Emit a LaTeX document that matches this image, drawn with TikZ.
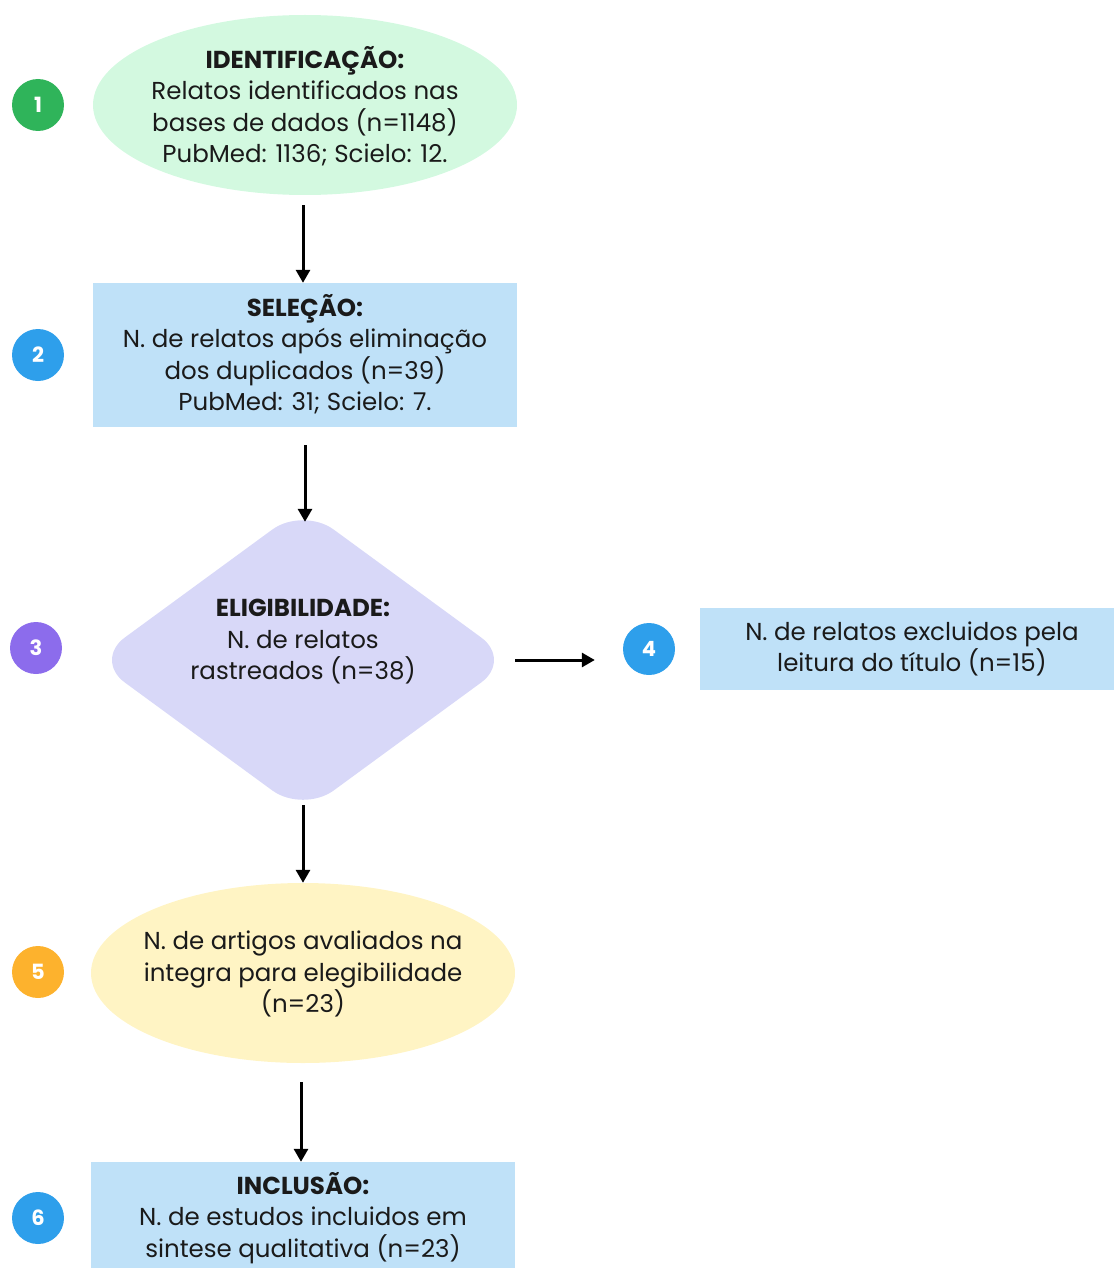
\documentclass[tikz,border=0pt]{standalone}
\usepackage{fontspec}
\setmainfont{Poppins}
\usetikzlibrary{shapes.geometric,arrows.meta}
\definecolor{cgreen}{HTML}{2FB45A}
\definecolor{cblue}{HTML}{2E9FEB}
\definecolor{cpurple}{HTML}{8C6CEC}
\definecolor{corange}{HTML}{FDB22D}
\definecolor{fgreen}{HTML}{D3F9E0}
\definecolor{fblue}{HTML}{BFE1F8}
\definecolor{flav}{HTML}{D8D8F8}
\definecolor{fyellow}{HTML}{FFF4C4}
\definecolor{txt}{HTML}{1A1A1A}
\tikzset{
  num/.style={circle,minimum size=52pt,inner sep=0pt,text=white,font=\fontsize{21}{24}\selectfont\bfseries},
  lbl/.style={align=center,text=txt,font=\fontsize{24.5}{31.5}\selectfont,inner sep=0pt},
  arr/.style={-{Triangle[length=13pt,width=14pt]},line width=3pt,black},
}
\begin{document}
\begin{tikzpicture}[x=1pt,y=-1pt]
\useasboundingbox (0,0) rectangle (1114,1268);
% node 1
\node[ellipse,fill=fgreen,minimum width=424pt,minimum height=180pt,inner sep=0pt] (e1) at (305,105) {};
\node[lbl] (t1) at (305,106) {\textbf{IDENTIFICAÇÃO:}\\Relatos identificados nas\\bases de dados (n=1148)\\PubMed: 1136; Scielo: 12.};
\node[num,fill=cgreen] (c1) at (38,105) {1};
% node 2
\node[rectangle,fill=fblue,minimum width=424pt,minimum height=144pt,inner sep=0pt] (r2) at (305,355) {};
\node[lbl] (t2) at (305,354) {\textbf{SELEÇÃO:}\\N. de relatos após eliminação\\dos duplicados (n=39)\\PubMed: 31; Scielo: 7.};
\node[num,fill=cblue] (c2) at (38,355) {2};
% node 3
\node[diamond,fill=flav,minimum width=418pt,minimum height=306pt,inner sep=0pt,rounded corners=38pt] (d3) at (303,660) {};
\node[lbl] (t3) at (303,642) {\textbf{ELIGIBILIDADE:}\\N. de relatos\\rastreados (n=38)};
\node[num,fill=cpurple] (c3) at (36,648) {3};
% node 4
\node[num,fill=cblue] (c4) at (649,649) {4};
\node[rectangle,fill=fblue,minimum width=414pt,minimum height=82pt,inner sep=0pt] (r4) at (907,649) {};
\node[lbl] (t4) at (912,649) {N. de relatos excluidos pela\\leitura do título (n=15)};
% node 5
\node[ellipse,fill=fyellow,minimum width=424pt,minimum height=180pt,inner sep=0pt] (e5) at (303,973) {};
\node[lbl] (t5) at (303,974) {N. de artigos avaliados na\\integra para elegibilidade\\(n=23)};
\node[num,fill=corange] (c5) at (38,972) {5};
% node 6
\node[rectangle,fill=fblue,minimum width=424pt,minimum height=144pt,inner sep=0pt] (r6) at (303,1234) {};
\node[lbl] (t6) at (303,1218) {\textbf{INCLUSÃO:}\\N. de estudos incluidos em\\sintese qualitativa (n=23)};
\node[num,fill=cblue] (c6) at (38,1218) {6};
% arrows
\draw[arr,shorten <=10pt] (e1.south -| d3.north) -- (r2.north -| d3.north);
\draw[arr,shorten <=18pt,shorten >=-15pt] (r2.south) -- (r2.south |- d3.north);
\draw[arr,shorten <=3pt,shorten >=28pt] (d3.east) -- (d3.east -| c4.west);
\draw[arr,shorten <=-8pt] (d3.south) -- (e5.north);
\draw[arr,shorten <=19pt] ([xshift=-2pt]e5.south) -- ([xshift=-2pt]r6.north);
\end{tikzpicture}
\end{document}
